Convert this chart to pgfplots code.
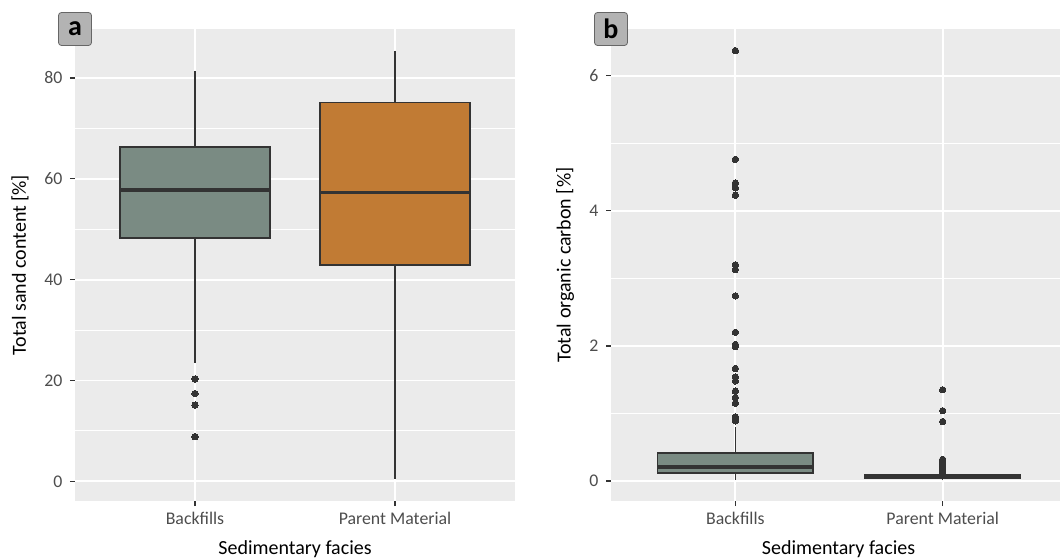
\documentclass[border=0pt]{standalone}
\usepackage{fontspec}
\setmainfont{Carlito}
\usepackage{pgfplots}
\usepgfplotslibrary{statistics}
\pgfplotsset{compat=1.18}
\definecolor{panelbg}{HTML}{EBEBEB}
\definecolor{bfill}{HTML}{7A8B83}
\definecolor{pfill}{HTML}{C17B34}
\definecolor{g20}{HTML}{333333}
\definecolor{g30}{HTML}{4D4D4D}
\definecolor{labbg}{HTML}{B3B3B3}
\tikzset{
  tag/.style={fill=labbg, draw=g20!75, line width=0.8bp, rounded corners=3bp, minimum size=33bp, inner sep=0pt, font=\fontsize{28bp}{28bp}\selectfont\bfseries},
}
\pgfplotsset{
  gg/.style={
    scale only axis, height=472bp,
    axis background/.style={fill=panelbg},
    axis line style={draw=none},
    xmajorgrids, ymajorgrids, yminorgrids,
    major grid style={white, line width=1.9bp},
    minor grid style={white, line width=0.9bp},
    minor y tick num=1,
    tick align=outside,
    major tick length=5bp, minor tick length=0bp,
    every tick/.style={g20, line width=1.4bp},
    tick pos=left,
    xmin=0.4, xtick={1,2}, xticklabels={Backfills, Parent Material},
    ticklabel style={font=\fontsize{17.8bp}{20bp}\selectfont, text=g30},
    xticklabel style={anchor=base, yshift=-18bp},
    yticklabel style={xshift=-4bp},
    /pgf/number format/assume math mode=true,
    every axis x label/.style={at={(rel axis cs:0.5,0)}, anchor=base, yshift=-53bp, font=\fontsize{20bp}{22bp}\selectfont},
    clip=false,
    boxplot/draw direction=y,
    boxplot/whisker extend=0,
    boxplot/every median/.style={line width=3.6bp},
    boxplot/every whisker/.style={line width=1.6bp},
  },
  box/.style={draw=g20, line width=1.6bp, fill=#1},
  outl/.style={only marks, mark=*, mark size=3.2bp, draw=g20, fill=g20, mark options={line width=0pt}},
}
\begin{document}
\begin{tikzpicture}
\useasboundingbox (0,0) rectangle (1060bp,559bp);
% ---------------- panel a
\begin{axis}[gg, at={(75bp,58bp)}, anchor=south west, width=440bp,
  xmax=2.6, ymin=-3.9, ymax=89.7, ytick={0,20,40,60,80},
  every axis y label/.style={at={(rel axis cs:0,0.5)}, xshift=-55bp, rotate=90, anchor=center, font=\fontsize{20bp}{22bp}\selectfont},
  xlabel={Sedimentary facies}, ylabel={Total sand content [\%]}]
\addplot[box=bfill, boxplot prepared={lower whisker=23.5, lower quartile=48.3, median=57.8, upper quartile=66.3, upper whisker=81.4, draw position=1, box extend=0.75}] coordinates {};
\addplot[box=pfill, boxplot prepared={lower whisker=0.4, lower quartile=42.9, median=57.3, upper quartile=75.1, upper whisker=85.4, draw position=2, box extend=0.75}] coordinates {};
\addplot[outl] coordinates {(1,20.3) (1,17.4) (1,15.1) (1,8.85)};
\node[tag] at (rel axis cs:0,1) {a};
\end{axis}
% ---------------- panel b
\begin{axis}[gg, at={(611bp,58bp)}, anchor=south west, width=449bp,
  xmax=2.566, ymin=-0.296, ymax=6.69, ytick={0,2,4,6},
  every axis y label/.style={at={(rel axis cs:0,0.5)}, xshift=-46bp, rotate=90, anchor=center, font=\fontsize{20bp}{22bp}\selectfont},
  every axis x label/.append style={xshift=3bp},
  xlabel={Sedimentary facies}, ylabel={Total organic carbon [\%]}]
\addplot[box=bfill, boxplot prepared={lower whisker=0.02, lower quartile=0.12, median=0.207, upper quartile=0.415, upper whisker=0.8, draw position=1, box extend=0.75}] coordinates {};
\addplot[box=pfill, boxplot prepared={lower whisker=0.01, lower quartile=0.045, median=0.065, upper quartile=0.085, upper whisker=0.11, draw position=2, box extend=0.75}] coordinates {};
\addplot[outl] coordinates {(1,6.37) (1,4.76) (1,4.41) (1,4.34) (1,4.23) (1,3.20) (1,3.13) (1,2.74) (1,2.20) (1,2.02) (1,1.99) (1,1.665) (1,1.54) (1,1.48) (1,1.33) (1,1.235) (1,1.15) (1,0.95) (1,0.92) (1,0.89)};
\addplot[outl] coordinates {(2,1.35) (2,1.04) (2,0.88) (2,0.32) (2,0.29) (2,0.26) (2,0.22) (2,0.18) (2,0.15) (2,0.12)};
\node[tag] at (rel axis cs:0,1) {b};
\end{axis}
\end{tikzpicture}
\end{document}
